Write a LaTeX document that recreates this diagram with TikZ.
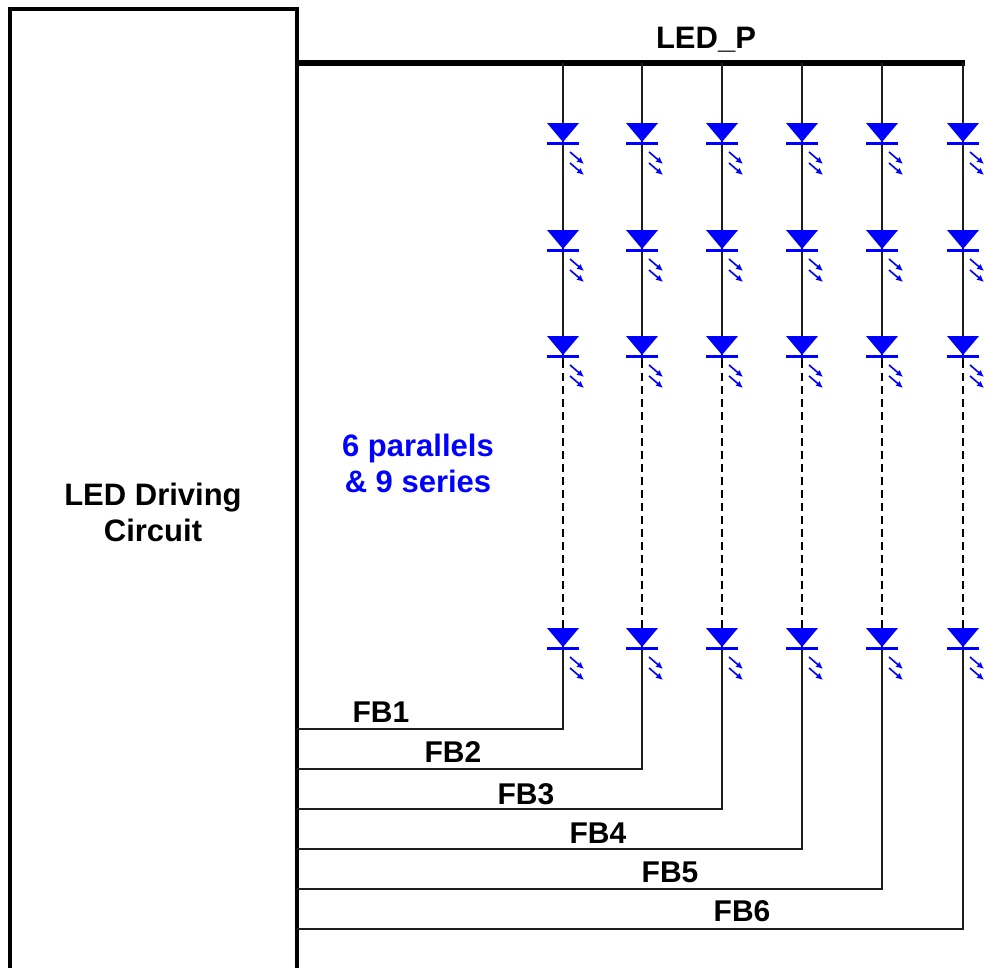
\documentclass[tikz,border=0pt]{standalone}
\usepackage{fontspec}
\setmainfont{Liberation Sans}
\usetikzlibrary{arrows.meta}
\definecolor{ledblue}{RGB}{0,0,255}
\definecolor{wire}{RGB}{30,30,30}
\begin{document}
\begin{tikzpicture}[x=1pt,y=-1pt,
  wirestyle/.style={draw=wire,line width=2.3pt},
  busstyle/.style={draw=black,line width=5.5pt},
  dashwire/.style={draw=black,line width=2.5pt,dash pattern=on 8pt off 5pt},
  lbl/.style={font=\fontsize{31}{36}\selectfont\bfseries,inner sep=0pt},
  fblbl/.style={font=\fontsize{30}{34}\selectfont\bfseries,inner sep=0pt},
  ledarrow/.style={draw=ledblue,line width=1.6pt,-{Latex[length=7pt,width=6.5pt]}}]
\useasboundingbox (0,0) rectangle (988,967);
% driving circuit box
\draw[line width=3.8pt] (10,975) -- (10,9) -- (297,9) -- (297,975);
\node[lbl,align=center] (drv) at (153,512) {LED Driving\\Circuit};
% LED_P bus
\coordinate (busL) at (297,63);
\coordinate (busR) at (963,63);
\draw[busstyle] (busL) -- ([xshift=1.5pt]busR);
\node[lbl] (ledp) at (706,40) {LED\_P};
\node[lbl,text=ledblue,align=center] (note) at (418,463) {6 parallels\\\& 9 series};
% LED columns
\newcommand{\ledsym}[2]{%
  \fill[ledblue] (#1-16,#2-10) -- (#1+16,#2-10) -- (#1,#2+9) -- cycle;
  \draw[ledblue,line width=3pt] (#1-16,#2+10) -- (#1+16,#2+10);
  \draw[ledarrow] (#1+7,#2+19) -- (#1+21,#2+31);
  \draw[ledarrow] (#1+7,#2+30) -- (#1+21,#2+42);
}
\foreach \cx/\fy/\i in {563/729/1,642/769/2,722/809/3,802/849/4,882/889/5,963/929/6}{
  \coordinate (top\i) at (\cx,63);
  \coordinate (d\i) at (\cx,360);
  \coordinate (e\i) at (\cx,628);
  \coordinate (bot\i) at (\cx,\fy);
  \coordinate (fb\i) at (297,\fy);
  \draw[wirestyle] (top\i) -- (d\i);
  \draw[dashwire] (d\i) -- (e\i);
  \draw[wirestyle] (e\i) -- (bot\i) -- (fb\i);
  \ledsym{\cx}{133}
  \ledsym{\cx}{240}
  \ledsym{\cx}{346}
  \ledsym{\cx}{638}
}
\node[fblbl] (l1) at (381,712) {FB1};
\node[fblbl] (l2) at (453,752) {FB2};
\node[fblbl] (l3) at (526,794) {FB3};
\node[fblbl] (l4) at (598,833) {FB4};
\node[fblbl] (l5) at (670,872) {FB5};
\node[fblbl] (l6) at (742,911) {FB6};
\end{tikzpicture}
\end{document}
